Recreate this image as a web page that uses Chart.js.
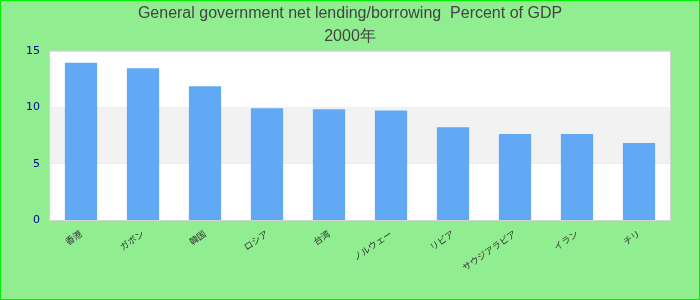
<!DOCTYPE html>
<html>
<head>
<meta charset="utf-8">
<script src="https://cdn.jsdelivr.net/npm/chart.js@4"></script>
<style>
  html, body { margin: 0; padding: 0; background: #90EE90; }
  #wrap { width: 700px; height: 300px; position: relative; }
</style>
</head>
<body>
<div id="wrap"><canvas id="c" width="700" height="300"></canvas></div>
<script>
const titleLines = ["General government net lending/borrowing  Percent of GDP", "2000年"];
const categories = ["香港", "ガボン", "韓国", "ロシア", "台湾", "ノルウェー", "リビア", "サウジアラビア", "イラン", "チリ"];
const values = [14.0, 13.5, 11.9, 9.95, 9.85, 9.75, 8.25, 7.65, 7.65, 6.85];
const yTicks = [0, 5, 10, 15];

const bgPlugin = {
  id: 'bg',
  beforeDraw(chart) {
    const ctx = chart.ctx;
    ctx.save();
    ctx.fillStyle = '#90EE90';
    ctx.fillRect(0, 0, chart.width, chart.height);
    ctx.strokeStyle = '#00EE00';
    ctx.lineWidth = 2;
    ctx.strokeRect(0, 0, chart.width, chart.height);
    const a = chart.chartArea;
    const y = chart.scales.y;
    for (let i = 0; i < yTicks.length - 1; i++) {
      const top = y.getPixelForValue(yTicks[i + 1]);
      const bot = y.getPixelForValue(yTicks[i]);
      ctx.fillStyle = (i % 2 === 1) ? '#F2F2F2' : '#FFFFFF';
      ctx.fillRect(a.left, top, a.right - a.left, bot - top);
    }
    ctx.strokeStyle = '#D3D3D3';
    ctx.lineWidth = 1;
    ctx.strokeRect(a.left - 0.5, a.top - 0.5, a.right - a.left + 1, a.bottom - a.top + 1);
    ctx.restore();
  }
};

new Chart(document.getElementById('c'), {
  type: 'bar',
  data: {
    labels: categories,
    datasets: [{
      data: values,
      backgroundColor: '#61A9F5',
      borderWidth: 0,
      barPercentage: 0.52,
      categoryPercentage: 1.0
    }]
  },
  options: {
    responsive: false,
    animation: false,
    devicePixelRatio: 1,
    layout: { padding: 0 },
    plugins: {
      legend: { display: false },
      tooltip: { enabled: false },
      title: {
        display: true,
        text: titleLines,
        color: '#444444',
        font: { family: 'Liberation Sans, Arial, sans-serif', size: 16, weight: 'normal', lineHeight: 1.45 },
        padding: { top: 2, bottom: 3 }
      }
    },
    scales: {
      x: {
        grid: { display: false, drawTicks: false },
        border: { display: false },
        ticks: {
          color: '#333333',
          font: { family: 'Noto Sans CJK JP, sans-serif', size: 9 },
          minRotation: 35,
          maxRotation: 35,
          autoSkip: false,
          padding: 8
        },
        afterFit(scale) { scale.height = 80; }
      },
      y: {
        min: 0,
        max: 15,
        grid: { display: false, drawTicks: false },
        border: { display: false },
        ticks: {
          stepSize: 5,
          color: '#00008B',
          font: { family: 'DejaVu Sans, sans-serif', size: 11 },
          padding: 10
        },
        afterFit(scale) { scale.width = 50; }
      },
      yRight: {
        position: 'right',
        display: true,
        min: 0,
        max: 15,
        grid: { display: false, drawTicks: false },
        border: { display: false },
        ticks: { display: false },
        afterFit(scale) { scale.width = 30; }
      }
    }
  },
  plugins: [bgPlugin]
});
</script>
</body>
</html>
